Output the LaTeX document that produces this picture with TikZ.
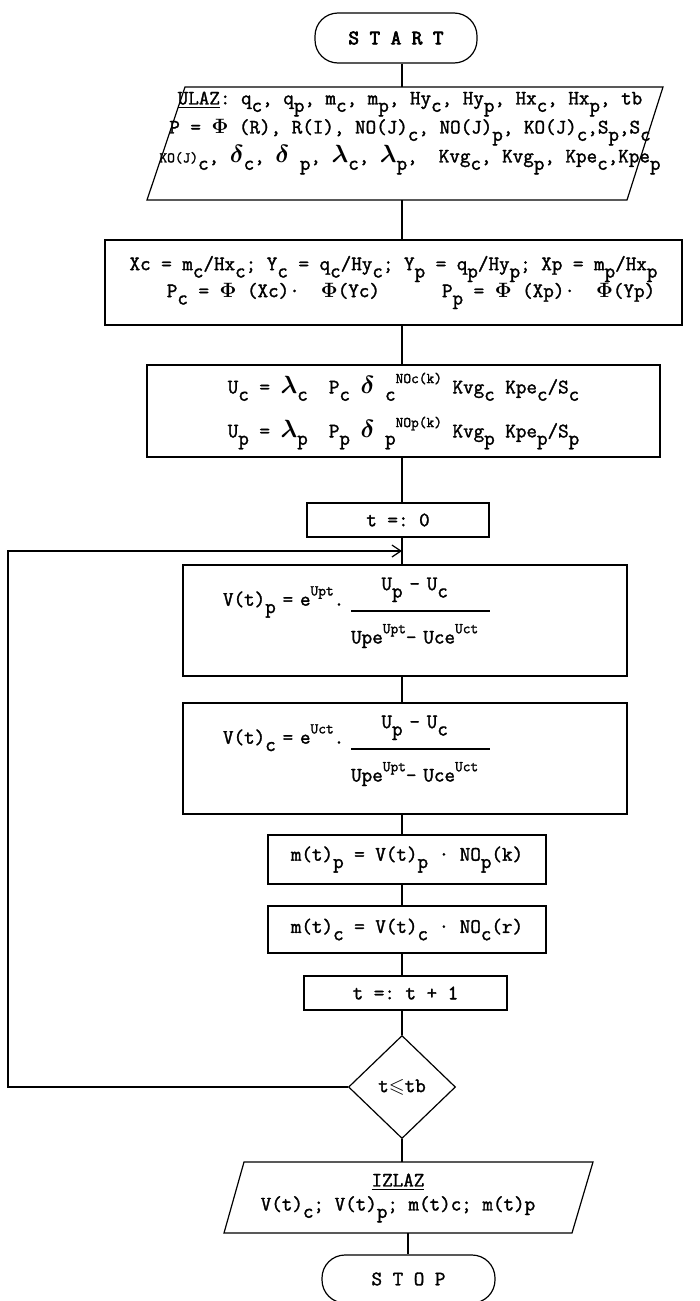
\documentclass[tikz,border=0pt]{standalone}
\usepackage{amsmath,amssymb}
\usepackage{fontspec}
\setmonofont{Latin Modern Mono}[FakeBold=1.6]
\newfontfamily\heavymono{Latin Modern Mono}[FakeBold=3.5]
\usetikzlibrary{shapes.geometric,arrows.meta}
\setlength{\arrayrulewidth}{1.2pt}
\newcommand{\dn}[1]{\raisebox{-0.36em}{#1}}
\newcommand{\hi}[1]{\raisebox{0.5em}{\fontsize{15}{15}\selectfont #1}}
\newcommand{\lamb}{{\fontsize{28}{28}\selectfont$\boldsymbol{\lambda}$}}
\newcommand{\delt}{{\fontsize{24}{24}\selectfont$\boldsymbol{\delta}$}}
\newcommand{\fii}{$\boldsymbol{\Phi}$}
\newcommand{\frc}[2]{\raisebox{-11.5pt}{\begin{tabular}{@{}c@{\hspace{12pt}}}#1\\[13pt]\hline\rule{0pt}{32pt}#2\end{tabular}}}
\newcommand{\bodyfont}{\ttfamily\fontsize{20.5}{24}\selectfont\setlength{\lineskiplimit}{-30pt}}
\newcommand{\ulazfont}{\ttfamily\fontsize{20.5}{26}\selectfont\setlength{\lineskiplimit}{-30pt}}
\begin{document}
\begin{tikzpicture}[x=1pt,y=1pt,yscale=-1,xscale=1,line width=1.2pt,>={Straight Barb[length=9pt,width=12pt]},
  every node/.style={inner sep=0pt,font=\bodyfont},
  term/.style={draw,rounded corners=23pt},
  box/.style={draw,align=center},
  vbox/.style={draw,align=left,text width=364pt,inner xsep=40pt,minimum height=111pt},
  dec/.style={draw,diamond}]
        \useasboundingbox (0,0) rectangle (700,1301);
        \coordinate (col) at (402,0);
        \coordinate (col2) at (408,0);
        \coordinate (lft) at (8,0);
        \coordinate (join) at (402,551);

        %Shape: Terminal
        \node [term,minimum width=162pt,minimum height=50pt] (start) at (396,38) {\heavymono S T A R T};
        %Shape: Parallelogram
        \draw (185,87) -- (663,87) -- (627,200) -- (147,200) -- cycle ;
        \coordinate (ulazN) at (402,87);
        \coordinate (ulazS) at (402,200);
        % Text Node
        \node [align=center,font=\ulazfont] (ulaz) at (410,133) {\underline{ULAZ}: q\dn{c}, q\dn{p}, m\dn{c}, m\dn{p}, Hy\dn{c}, Hy\dn{p}, Hx\dn{c}, Hx\dn{p}, tb\\[3pt]
          P = \fii\ (R), R(I), NO(J)\dn{c}, NO(J)\dn{p}, KO(J)\dn{c},S\dn{p},S\dn{c}\\[3pt]
          {\fontsize{15}{15}\selectfont KO(J)}\dn{c}, \delt\dn{c}, \delt\ \dn{p}, \lamb\dn{c}, \lamb\dn{p},\ \ Kvg\dn{c}, Kvg\dn{p}, Kpe\dn{c},Kpe\dn{p}};
        %Shape: Rectangle
        \node [box,minimum width=577pt,minimum height=85pt] (xcbox) at (393.5,282.5) {Xc = m\dn{c}/Hx\dn{c}; Y\dn{c} = q\dn{c}/Hy\dn{c}; Y\dn{p} = q\dn{p}/Hy\dn{p}; Xp = m\dn{p}/Hx\dn{p}\\[3pt]
          \hspace*{35pt}P\dn{c} = \fii\ (Xc)·\ \ \fii(Yc)\hspace{62pt}P\dn{p} = \fii\ (Xp)·\ \ \fii(Yp)};
        %Shape: Rectangle
        \node [box,minimum width=513pt,minimum height=92pt] (ucbox) at (403.5,411) {U\dn{c} = \lamb\dn{c}\ \ P\dn{c} \delt\ \dn{c}\hi{NOc(k)} Kvg\dn{c} Kpe\dn{c}/S\dn{c}\\[20pt]
          U\dn{p} = \lamb\dn{p}\ \ P\dn{p} \delt\ \dn{p}\hi{NOp(k)} Kvg\dn{p} Kpe\dn{p}/S\dn{p}};
        %Shape: Rectangle
        \node [box,minimum width=182pt,minimum height=34pt] (t0) at (398,520) {t =: 0};
        %Shape: Rectangle
        \node [vbox] (vp) at (405,620.5) {\raisebox{8.5pt}[\height][\depth]{V(t)\dn{p} = e\hi{Upt}.\ \frc{U\dn{p} - U\dn{c}}{Upe\hi{Upt}- Uce\hi{Uct}}}};
        %Shape: Rectangle
        \node [vbox] (vc) at (405,758.5) {\raisebox{8.5pt}[\height][\depth]{V(t)\dn{c} = e\hi{Uct}.\ \frc{U\dn{p} - U\dn{c}}{Upe\hi{Upt}- Uce\hi{Uct}}}};
        %Shape: Rectangle
        \node [box,minimum width=278pt,minimum height=49pt] (mp) at (407,859.5) {m(t)\dn{p} = V(t)\dn{p} · NO\dn{p}(k)};
        %Shape: Rectangle
        \node [box,minimum width=278pt,minimum height=47pt] (mc) at (407,929.5) {m(t)\dn{c} = V(t)\dn{c} · NO\dn{c}(r)};
        %Shape: Rectangle
        \node [box,minimum width=203pt,minimum height=34pt] (t1) at (405.5,993) {t =: t + 1};
        %Shape: Diamond
        \node [dec,minimum width=107pt,minimum height=103pt] (cond) at (402,1087) {t$\leqslant$tb};
        %Shape: Parallelogram
        \draw (244,1162) -- (593,1162) -- (572,1233) -- (224,1233) -- cycle ;
        \coordinate (izlazN) at (402,1162);
        \coordinate (izlazS) at (408,1233);
        % Text Node
        \node [align=center] (izlaz) at (398,1198) {\underline{IZLAZ}\\ V(t)\dn{c}; V(t)\dn{p}; m(t)c; m(t)p};
        %Shape: Terminal
        \node [term,minimum width=173pt,minimum height=48pt] (stop) at (408.5,1279) {S T O P};

        %Straight Lines
        \draw (col |- start.south) -- (ulazN);
        \draw (ulazS) -- (col |- xcbox.north);
        \draw (col |- xcbox.south) -- (col |- ucbox.north);
        \draw (col |- ucbox.south) -- (col |- t0.north);
        \draw (col |- t0.south) -- (col |- vp.north);
        \draw (col |- vp.south) -- (col |- vc.north);
        \draw (col |- vc.south) -- (col |- mp.north);
        \draw (col |- mp.south) -- (col |- mc.north);
        \draw (col |- mc.south) -- (col |- t1.north);
        \draw (col |- t1.south) -- (cond.north);
        \draw (cond.south) -- (izlazN);
        \draw (izlazS) -- (col2 |- stop.north);
        \draw [->] (cond.west) -- (cond.west -| lft) |- (join);
\end{tikzpicture}
\end{document}
